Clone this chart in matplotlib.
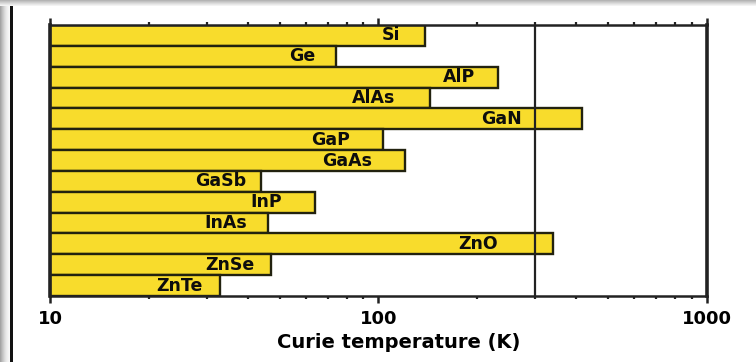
import numpy as np
import matplotlib
matplotlib.use("Agg")
import matplotlib.pyplot as plt
from matplotlib.patches import Rectangle
from matplotlib.ticker import LogLocator, FixedLocator, FixedFormatter, NullFormatter

# Curie temperatures of Mn-doped semiconductors
materials = ["Si", "Ge", "AlP", "AlAs", "GaN", "GaP", "GaAs",
             "GaSb", "InP", "InAs", "ZnO", "ZnSe", "ZnTe"]
curie_K = [139, 74, 231, 143, 416, 103, 120, 44, 64, 46, 340, 47, 33]
room_temp_K = 300
x_ticks = [10, 100, 1000]
x_tick_labels = ["10", "100", "1000"]

# gap (in pixels) between each name and the end of its bar
label_gap_px = [25, 20, 23, 34, 60, 33, 32, 15, 33, 21, 55, 16, 18]

plt.rcParams["font.family"] = ["DejaVu Sans"]
plt.rcParams["font.weight"] = "bold"

fig = plt.figure(figsize=(7.56, 3.62), dpi=100)
fig.patch.set_facecolor("white")
ax = fig.add_axes([0.0661, 0.1823, 0.9352 - 0.0661, 0.9309 - 0.1823])

x_min, x_max = x_ticks[0], x_ticks[-1]
ypos = np.arange(len(materials))
ax.barh(ypos, np.array(curie_K) - x_min, left=x_min, height=1.0,
        color="#F8DC2C", edgecolor="#22220f", linewidth=1.7, zorder=2)

ax.axvline(room_temp_K, color="#222222", linewidth=1.6, zorder=3)

ax.set_xscale("log")
ax.set_xlim(x_min, x_max)
ax.set_ylim(len(materials) - 0.5, -0.5)

for y, name, val, gap in zip(ypos, materials, curie_K, label_gap_px):
    ax.annotate(name, xy=(val, y), xytext=(-gap * 72 / fig.dpi, 0),
                textcoords="offset points", ha="right", va="center",
                fontsize=12.5, fontweight="bold", color="#0d0d0d", zorder=4)

ax.xaxis.set_major_locator(FixedLocator(x_ticks))
ax.xaxis.set_major_formatter(FixedFormatter(x_tick_labels))
ax.xaxis.set_minor_locator(LogLocator(base=10, subs=np.arange(2, 10)))
ax.xaxis.set_minor_formatter(NullFormatter())
ax.tick_params(axis="x", which="major", direction="out", length=5, width=1.8,
               top=True, bottom=True, labelsize=13, pad=5, color="#222222")
ax.tick_params(axis="x", which="minor", direction="out", length=2.5, width=1.6,
               top=True, bottom=True, color="#222222")
for lbl in ax.get_xticklabels():
    lbl.set_fontweight("bold")
ax.set_yticks([])

for sp in ax.spines.values():
    sp.set_linewidth(1.8)
    sp.set_color("#222222")
ax.spines["left"].set_linewidth(2.6)
ax.spines["right"].set_linewidth(2.6)

ax.set_xlabel("Curie temperature (K)", fontsize=14, fontweight="bold")
ax.xaxis.set_label_coords(0.531, -0.135)

# picture frame: gray bevel along top and left, dark rule on the left
W, H = 756, 362
shades = ["#b4b4b4", "#c2c2c2", "#cfcfcf", "#dcdcdc", "#e8e8e8", "#f3f3f3"]
for i, c in enumerate(shades):
    fig.add_artist(Rectangle((0, 1 - (i + 1) / H), 1, 1 / H,
                             transform=fig.transFigure, color=c, lw=0,
                             zorder=10))
left_shades = ["#a4a4a4", "#b2b2b2", "#c0c0c0", "#cccccc", "#d8d8d8",
               "#e2e2e2", "#eaeaea", "#f0f0f0", "#f5f5f5", "#f9f9f9"]
for i, c in enumerate(left_shades):
    fig.add_artist(Rectangle((i / W, 0), 1 / W, 1 - 6 / H,
                             transform=fig.transFigure, color=c, lw=0,
                             zorder=10))
fig.add_artist(Rectangle((10 / W, 0), 2.5 / W, 1 - 6 / H,
                         transform=fig.transFigure, color="#111111", lw=0,
                         zorder=11))

fig.savefig("out.png", dpi=100)
